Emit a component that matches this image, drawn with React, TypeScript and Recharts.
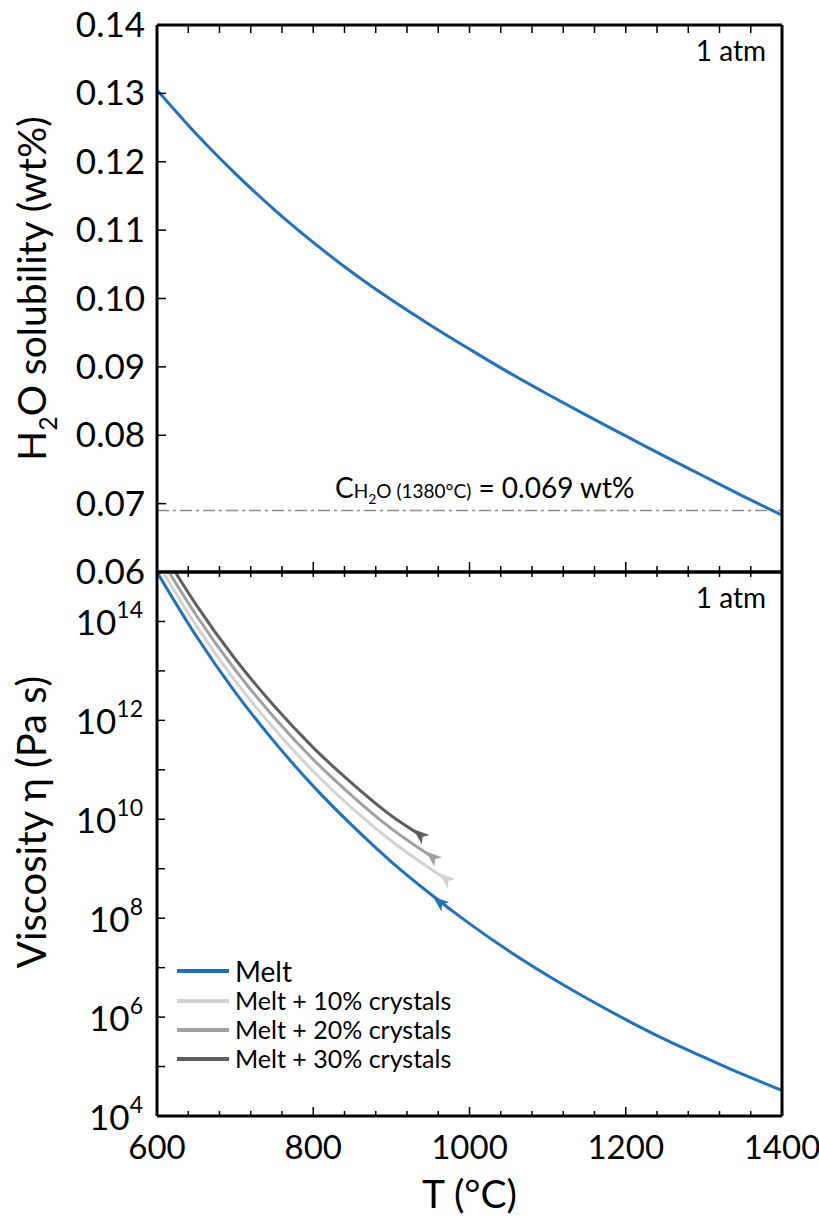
import React from 'react';
import { LineChart, Line, XAxis, YAxis, ReferenceLine, ReferenceDot, Legend, Label } from 'recharts';

const FONT = 'Lato, "Open Sans", sans-serif';
const BLUE = '#1f72be';
const LIGHT = '#d2d2d2';
const MID = '#a0a0a0';
const DARK = '#5e5e5e';

// Top panel: H2O solubility (wt%) vs T
const solT = [600, 650, 700, 750, 800, 850, 900, 950, 1000, 1050, 1100, 1150, 1200, 1250, 1300, 1350, 1400];
const solValues = [0.1305, 0.1241, 0.1183, 0.113, 0.1082, 0.1038, 0.0998, 0.0961, 0.0926, 0.0892, 0.086, 0.0829, 0.0799, 0.0769, 0.074, 0.0711, 0.0683];
const solTicks = [0.06, 0.07, 0.08, 0.09, 0.1, 0.11, 0.12, 0.13, 0.14];
const solRefValue = 0.069;

// Bottom panel: log10 viscosity (Pa s) vs T
const meltT = [600, 650, 700, 750, 800, 850, 900, 950, 1000, 1050, 1100, 1150, 1200, 1250, 1300, 1350, 1400];
const meltLog = [15.0, 13.71, 12.57, 11.57, 10.67, 9.87, 9.14, 8.49, 7.89, 7.34, 6.84, 6.38, 5.95, 5.55, 5.19, 4.84, 4.52];
const c10T = [600, 650, 700, 750, 800, 850, 900, 970];
const c10Log = [15.2, 13.92, 12.8, 11.83, 10.97, 10.22, 9.56, 8.79];
const c20T = [600, 650, 700, 750, 800, 850, 900, 953];
const c20Log = [15.4, 14.13, 13.02, 12.06, 11.21, 10.47, 9.81, 9.23];
const c30T = [600, 650, 700, 750, 800, 850, 900, 937];
const c30Log = [15.6, 14.34, 13.24, 12.29, 11.45, 10.72, 10.07, 9.68];

const arrowT = [962, 970, 953, 937];
const arrowLog = [8.32, 8.79, 9.23, 9.68];
const arrowColors = [BLUE, LIGHT, MID, DARK];

const seriesNames = ['Melt', 'Melt + 10% crystals', 'Melt + 20% crystals', 'Melt + 30% crystals'];
const seriesColors = [BLUE, LIGHT, MID, DARK];

const xTicks = [600, 640, 680, 720, 760, 800, 840, 880, 920, 960, 1000, 1040, 1080, 1120, 1160, 1200, 1240, 1280, 1320, 1360, 1400];
const logTicks = [1e4, 1e5, 1e6, 1e7, 1e8, 1e9, 1e10, 1e11, 1e12, 1e13, 1e14, 1e15];

const solData = solT.map((T, i) => ({ T, v: solValues[i] }));
const toLogData = (ts: number[], ls: number[]) => ts.map((T, i) => ({ T, v: Math.pow(10, ls[i]) }));
const meltData = toLogData(meltT, meltLog);
const c10Data = toLogData(c10T, c10Log);
const c20Data = toLogData(c20T, c20Log);
const c30Data = toLogData(c30T, c30Log);

const isMajorX = (v: number) => Math.round(v) % 200 === 0;

const makeXTick = (dir: number, labels: boolean, majorLen: number, minorLen: number) => (p: any) => {
  const { x, y, payload } = p;
  const major = isMajorX(payload.value);
  const len = major ? majorLen : minorLen;
  return (
    <g>
      <line x1={x} x2={x} y1={y} y2={y + dir * len} stroke="#000" strokeWidth={1.5} />
      {labels && major && (
        <text x={x} y={y + 43} textAnchor="middle" fontSize={33} fontFamily={FONT} fill="#000">
          {payload.value}
        </text>
      )}
    </g>
  );
};

const SolTick = (p: any) => {
  const { x, y, payload } = p;
  return (
    <g>
      <line x1={x} x2={x + 9} y1={y} y2={y} stroke="#000" strokeWidth={1.5} />
      <text x={x - 12} y={y + 12} textAnchor="end" fontSize={35} fontFamily={FONT} fill="#000">
        {payload.value.toFixed(2)}
      </text>
    </g>
  );
};

const LogTick = (p: any) => {
  const { x, y, payload } = p;
  const exp = Math.round(Math.log10(payload.value));
  return (
    <g>
      <line x1={x} x2={x + 8} y1={y} y2={y} stroke="#000" strokeWidth={1.5} />
      {exp % 2 === 0 && exp < 15 && (
        <text x={x - 14} y={y + 14} textAnchor="end" fontSize={35} fontFamily={FONT} fill="#000">
          10<tspan dy={-17} fontSize={23}>{exp}</tspan>
        </text>
      )}
    </g>
  );
};

const Arrow = (color: string) => (p: any) => {
  const { cx, cy } = p;
  const a = (40 * Math.PI) / 180;
  const dx = -Math.cos(a);
  const dy = -Math.sin(a);
  const nx = -dy;
  const ny = dx;
  const tip = [cx + 9 * dx, cy + 9 * dy];
  const b1 = [cx - 7 * dx + 6 * nx, cy - 7 * dy + 6 * ny];
  const b2 = [cx - 7 * dx - 6 * nx, cy - 7 * dy - 6 * ny];
  const notch = [cx - 3 * dx, cy - 3 * dy];
  return (
    <polygon
      points={`${tip[0]},${tip[1]} ${b1[0]},${b1[1]} ${notch[0]},${notch[1]} ${b2[0]},${b2[1]}`}
      fill={color}
      stroke="none"
    />
  );
};

const frame = { stroke: '#000', strokeWidth: 3 };

const LegendBox = () => (
  <div style={{ fontFamily: FONT, color: '#000' }}>
    {seriesNames.map((n, i) => (
      <div key={n} style={{ display: 'flex', alignItems: 'center', height: i === 0 ? 30 : 29 }}>
        <svg width={52} height={6} style={{ marginRight: 6 }}>
          <line x1={0} x2={52} y1={3} y2={3} stroke={seriesColors[i]} strokeWidth={4} />
        </svg>
        <span style={{ fontSize: i === 0 ? 28 : 25, lineHeight: 1 }}>{n}</span>
      </div>
    ))}
  </div>
);

export default function App() {
  return (
    <div style={{ position: 'absolute', top: 0, left: 0, width: 819, height: 1220, background: '#fff', fontFamily: FONT }}>
      <LineChart width={819} height={600} margin={{ top: 24, right: 36, bottom: 27, left: 156 }} style={{ position: 'absolute', top: 0, left: 0 }}>
        <XAxis xAxisId="b" type="number" dataKey="T" domain={[600, 1400]} allowDataOverflow ticks={xTicks} interval={0} height={1} tickSize={0} tickMargin={0} tickLine={false} axisLine={frame} tick={makeXTick(-1, false, 10, 6)} />
        <XAxis xAxisId="t" orientation="top" type="number" dataKey="T" domain={[600, 1400]} allowDataOverflow ticks={xTicks} interval={0} height={1} tickSize={0} tickMargin={0} tickLine={false} axisLine={frame} tick={makeXTick(1, false, 8, 8)} />
        <YAxis yAxisId="l" type="number" domain={[0.06, 0.14]} allowDataOverflow ticks={solTicks} interval={0} width={1} tickSize={0} tickMargin={0} tickLine={false} axisLine={frame} tick={SolTick}>
          <Label
            content={(p: any) => {
              const vb = p.viewBox;
              const cx = vb.x - 110;
              const cy = vb.y + vb.height / 2 - 10;
              return (
                <text x={cx} y={cy} transform={`rotate(-90 ${cx} ${cy})`} textAnchor="middle" fontSize={39} fontFamily={FONT} fill="#000">
                  H<tspan fontSize={25} dy={11}>2</tspan><tspan dy={-11}>O solubility (wt%)</tspan>
                </text>
              );
            }}
          />
        </YAxis>
        <YAxis yAxisId="r" orientation="right" type="number" domain={[0.06, 0.14]} allowDataOverflow width={1} tick={false} tickLine={false} axisLine={frame}>
          <Label
            content={(p: any) => {
              const vb = p.viewBox;
              return (
                <text x={vb.x - 16} y={vb.y + 36} textAnchor="end" fontSize={28} fontFamily={FONT} fill="#000">
                  1 atm
                </text>
              );
            }}
          />
        </YAxis>
        <ReferenceLine
          xAxisId="b"
          yAxisId="l"
          y={solRefValue}
          stroke="#8a8a8a"
          strokeWidth={1.5}
          strokeDasharray="12 4 3 4"
          label={(p: any) => {
            const vb = p.viewBox;
            return (
              <text x={vb.x + 178} y={vb.y - 12} fontSize={28} fontFamily={FONT} fill="#000">
                C<tspan fontSize={19}>H</tspan><tspan fontSize={14} dy={6}>2</tspan><tspan fontSize={19} dy={-6}>O (1380°C)</tspan><tspan> = 0.069 wt%</tspan>
              </text>
            );
          }}
        />
        <Line xAxisId="b" yAxisId="l" data={solData} dataKey="v" type="monotone" stroke={BLUE} strokeWidth={3} dot={false} isAnimationActive={false} />
      </LineChart>

      <LineChart width={819} height={660} margin={{ top: 11, right: 36, bottom: 103, left: 156 }} style={{ position: 'absolute', top: 560, left: 0 }}>
        <XAxis xAxisId="b" type="number" dataKey="T" domain={[600, 1400]} allowDataOverflow ticks={xTicks} interval={0} height={1} tickSize={0} tickMargin={0} tickLine={false} axisLine={frame} tick={makeXTick(-1, true, 9, 5)}>
          <Label
            content={(p: any) => {
              const vb = p.viewBox;
              return (
                <text x={vb.x + vb.width / 2} y={vb.y + 92} textAnchor="middle" fontSize={39} fontFamily={FONT} fill="#000">
                  T (°C)
                </text>
              );
            }}
          />
        </XAxis>
        <XAxis xAxisId="t" orientation="top" type="number" dataKey="T" domain={[600, 1400]} allowDataOverflow ticks={xTicks} interval={0} height={1} tickSize={0} tickMargin={0} tickLine={false} axisLine={frame} tick={makeXTick(1, false, 5, 5)} />
        <YAxis yAxisId="l" type="number" scale="log" domain={[1e4, 1e15]} allowDataOverflow ticks={logTicks} interval={0} width={1} tickSize={0} tickMargin={0} tickLine={false} axisLine={frame} tick={LogTick}>
          <Label
            content={(p: any) => {
              const vb = p.viewBox;
              const cx = vb.x - 110;
              const cy = vb.y + vb.height / 2 - 22;
              return (
                <text x={cx} y={cy} transform={`rotate(-90 ${cx} ${cy})`} textAnchor="middle" fontSize={40} fontFamily={FONT} fill="#000">
                  Viscosity η (Pa s)
                </text>
              );
            }}
          />
        </YAxis>
        <YAxis yAxisId="r" orientation="right" type="number" scale="log" domain={[1e4, 1e15]} allowDataOverflow width={1} tick={false} tickLine={false} axisLine={frame}>
          <Label
            content={(p: any) => {
              const vb = p.viewBox;
              return (
                <text x={vb.x - 16} y={vb.y + 36} textAnchor="end" fontSize={28} fontFamily={FONT} fill="#000">
                  1 atm
                </text>
              );
            }}
          />
        </YAxis>
        <Line xAxisId="b" yAxisId="l" data={meltData} dataKey="v" name={seriesNames[0]} type="monotone" stroke={BLUE} strokeWidth={3} dot={false} isAnimationActive={false} />
        <Line xAxisId="b" yAxisId="l" data={c10Data} dataKey="v" name={seriesNames[1]} type="monotone" stroke={LIGHT} strokeWidth={3} dot={false} isAnimationActive={false} />
        <Line xAxisId="b" yAxisId="l" data={c20Data} dataKey="v" name={seriesNames[2]} type="monotone" stroke={MID} strokeWidth={3} dot={false} isAnimationActive={false} />
        <Line xAxisId="b" yAxisId="l" data={c30Data} dataKey="v" name={seriesNames[3]} type="monotone" stroke={DARK} strokeWidth={3} dot={false} isAnimationActive={false} />
        {arrowT.map((t, i) => (
          <ReferenceDot key={i} xAxisId="b" yAxisId="l" x={t} y={Math.pow(10, arrowLog[i])} r={8} shape={Arrow(arrowColors[i])} />
        ))}
        <Legend layout="vertical" align="center" verticalAlign="middle" content={() => <LegendBox />} wrapperStyle={{ position: 'absolute', left: 177, top: 396, width: 'auto', height: 'auto' }} />
      </LineChart>
    </div>
  );
}
